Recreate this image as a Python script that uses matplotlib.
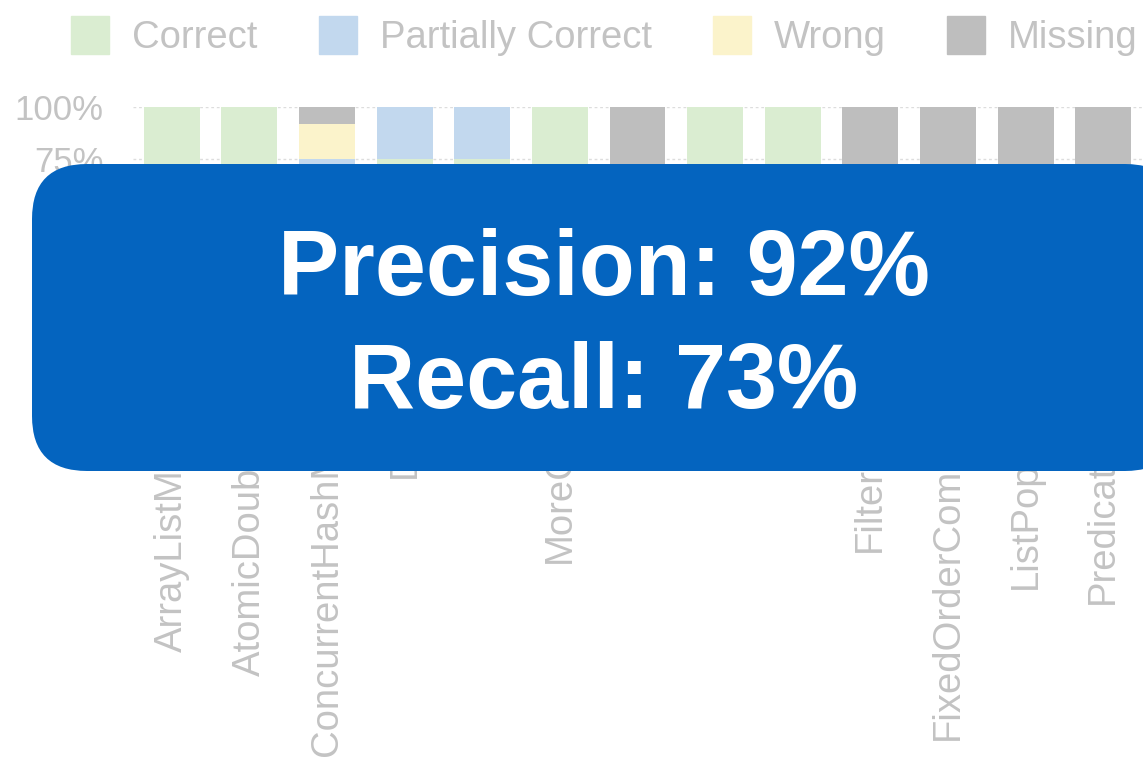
import matplotlib
matplotlib.use("Agg")
import matplotlib.pyplot as plt
from matplotlib.patches import Patch, FancyBboxPatch
import numpy as np

# per-class outcome shares (percent of generated items)
classes = ["ArrayListMultimap", "AtomicDoubleArray", "ConcurrentHashMultiset", "Deques",
           "Floats", "MoreCodecs", "Sets", "Tables", "Bags", "FilterIterator",
           "FixedOrderComparator", "ListPopulators", "PredicatedMap"]
correct = [100, 100, 50, 75, 75, 100, 0, 100, 100, 0, 0, 0, 0]
partial = [0, 0, 25, 25, 25, 0, 0, 0, 0, 0, 0, 0, 0]
wrong = [0, 0, 16.7, 0, 0, 0, 0, 0, 0, 0, 0, 0, 0]
missing = [0, 0, 8.3, 0, 0, 0, 100, 0, 0, 100, 100, 100, 100]

precision = 92
recall = 73

series = ["Correct", "Partially Correct", "Wrong", "Missing"]
colors = ["#daedd1", "#c2d8ee", "#fbf3cb", "#bebebe"]
txt = "#c3c3c3"
font = "Liberation Sans"

fig = plt.figure(figsize=(11.43, 7.58), dpi=100)
ax = fig.add_axes([133 / 1143, 1 - 317 / 758, 1009 / 1143, 210.4 / 758])

x = np.arange(len(classes))
bottom = np.zeros(len(classes))
for vals, c in zip([correct, partial, wrong, missing], colors):
    ax.bar(x, vals, width=0.72, bottom=bottom, color=c, zorder=2)
    bottom += np.array(vals)

ax.set_xlim(-0.5, len(classes) - 0.5)
ax.set_ylim(0, 100)
ax.set_yticks([0, 25, 50, 75, 100])
ax.set_yticklabels(["0%", "25%", "50%", "75%", "100%"], fontsize=25, family=font)
ax.set_xticks(x)
ax.set_xticklabels(classes, rotation=90, fontsize=27.5, family=font)
ax.tick_params(length=0, colors=txt, pad=21)
ax.yaxis.grid(True, color="#dddddd", linestyle=(0, (2, 2)), linewidth=1)
ax.set_axisbelow(True)
for s in ax.spines.values():
    s.set_visible(False)

handles = [Patch(color=c) for c in colors]
fig.legend(handles, series, ncol=4, loc="center", bbox_to_anchor=(0.529, 0.9525),
           frameon=False, prop={"family": font, "size": 27.5}, labelcolor=txt,
           handlelength=1.0, handleheight=1.16, handletextpad=0.6, columnspacing=1.6,
           borderpad=0, borderaxespad=0)

# summary banner on top, in pixel coordinates
ov = fig.add_axes([0, 0, 1, 1])
ov.set_xlim(0, 1143)
ov.set_ylim(758, 0)
ov.axis("off")
ov.add_patch(FancyBboxPatch((32, 164), 1148, 307, boxstyle="round,pad=0,rounding_size=55",
                            fc="#0464bf", ec="none"))
ov.text(604, 295, f"Precision: {precision}%", ha="center", va="baseline", color="white",
        fontsize=66, fontweight="bold", family=font)
ov.text(604, 408, f"Recall: {recall}%", ha="center", va="baseline", color="white",
        fontsize=66, fontweight="bold", family=font)

fig.savefig("out.png", dpi=100)
